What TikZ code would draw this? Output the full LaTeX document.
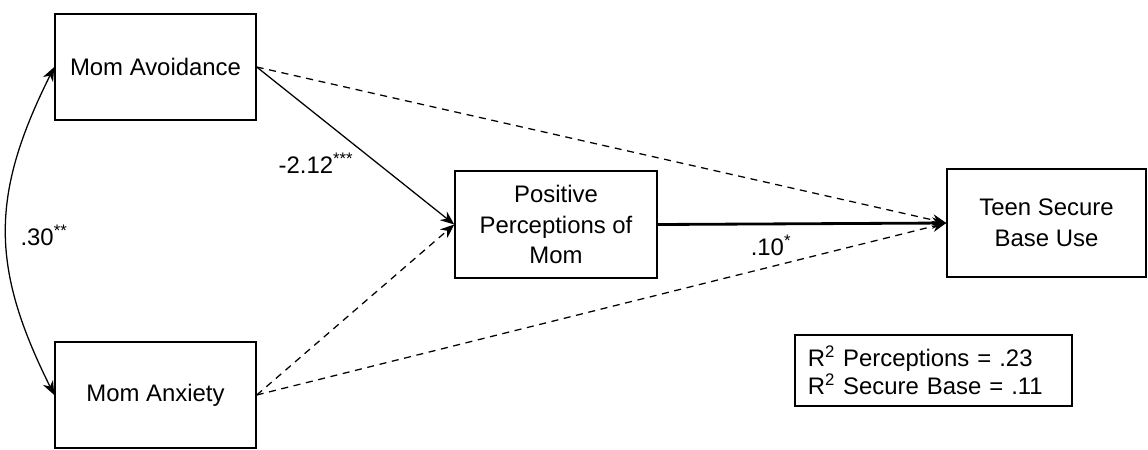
\documentclass[tikz,border=0pt]{standalone}
\usepackage{fontspec}
\setmainfont{Liberation Sans}
\usetikzlibrary{arrows.meta}

\begin{document}
\begin{tikzpicture}[x=0.025cm, y=-0.025cm,
        varbox/.style={draw, line width=1pt, align=center, inner sep=0pt,
            font=\fontsize{17}{22}\selectfont},
        path/.style={-{Stealth[length=10pt,width=8pt]}, line width=0.9pt},
        nonsig/.style={path, dash pattern=on 5pt off 4pt},
        coef/.style={font=\fontsize{17}{20}\selectfont}]
        \useasboundingbox (0,0) rectangle (1148,449);

        % Draw the variables
        \node[varbox, minimum width=5.025cm, minimum height=2.65cm] (avoid) at (155.5,67) {Mom Avoidance};
        \node[varbox, minimum width=5.025cm, minimum height=2.65cm] (anx) at (155.5,395) {Mom Anxiety};
        \node[varbox, minimum width=5.05cm, minimum height=2.675cm] (perc) at (556,224.5) {Positive\\Perceptions of\\Mom};
        \node[varbox, minimum width=4.975cm, minimum height=2.7cm] (teen) at (1046.5,223) {Teen Secure\\Base Use};

        % Draw the correlation
        \draw[path, {Stealth[length=10pt,width=8pt]}-{Stealth[length=10pt,width=8pt]}]
            (avoid.west) .. controls +(-64,128) and +(-64,-128) .. (anx.west);

        % Draw the paths
        \draw[path] (avoid.east) -- (perc.west);
        \draw[path, line width=2pt] (perc.east) -- (teen.west);
        \draw[nonsig] (avoid.east) -- (teen.west);
        \draw[nonsig] (anx.east) -- (perc.west);
        \draw[nonsig] (anx.east) -- (teen.west);

        % Add coefficients
        \node[coef] (c1) at (316,163) {-2.12\textsuperscript{***}};
        \node[coef] (c2) at (44,235) {.30\textsuperscript{**}};
        \node[coef] (c3) at (771,245) {.10\textsuperscript{*}};

        % Add legend
        \node[draw, line width=1pt, align=left, inner xsep=0.325cm, inner ysep=0pt,
            text width=6.275cm, minimum height=1.775cm,
            font=\fontsize{17}{20}\selectfont] (r2) at (933.5,370.5)
            {R\textsuperscript{2} Perceptions = .23\\R\textsuperscript{2} Secure Base = .11};
\end{tikzpicture}
\end{document}
